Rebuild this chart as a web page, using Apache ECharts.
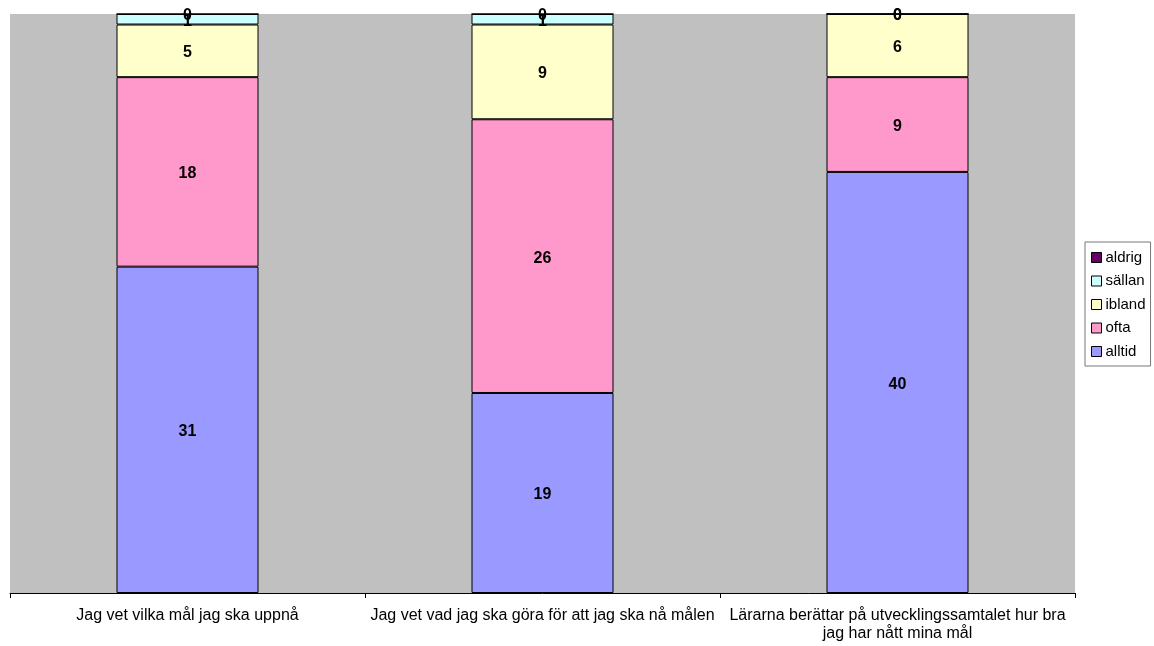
<!DOCTYPE html>
<html><head><meta charset="utf-8">
<script src="https://cdn.jsdelivr.net/npm/echarts@6/dist/echarts.min.js"></script>
<style>html,body{margin:0;padding:0;background:#fff}#c{width:1154px;height:646px}</style>
</head><body><div id="c"></div>
<script>
const categories = ["Jag vet vilka mål jag ska uppnå", "Jag vet vad jag ska göra för att jag ska nå målen", "Lärarna berättar på utvecklingssamtalet hur bra\njag har nått mina mål"];
const alltid = [31, 19, 40];
const ofta = [18, 26, 9];
const ibland = [5, 9, 6];
const sallan = [1, 1, 0];
const aldrig = [0, 0, 0];
const seriesNames = ["alltid", "ofta", "ibland", "sällan", "aldrig"];
const seriesData = [alltid, ofta, ibland, sallan, aldrig];
const colors = ["#9999FF", "#FF99CC", "#FFFFCC", "#CCFFFF", "#660066"];
const totals = categories.map((_, i) => seriesData.reduce((s, a) => s + a[i], 0));
const font = "Liberation Sans, Arial, sans-serif";
const chart = echarts.init(document.getElementById('c'));
chart.setOption({
  animation: false,
  grid: {left: 10, right: 79, top: 14, bottom: 53, show: true, backgroundColor: '#C0C0C0', borderWidth: 0},
  legend: {
    orient: 'vertical', left: 1085, top: 242,
    data: seriesNames.slice().reverse(),
    itemWidth: 10, itemHeight: 10, itemGap: 8.5,
    icon: 'rect',
    itemStyle: {borderColor: '#000', borderWidth: 1},
    textStyle: {fontFamily: font, fontSize: 15, color: '#000', padding: [0,0,0,-1]},
    borderColor: '#777', borderWidth: 1, padding: [8, 5, 7, 6], backgroundColor: '#fff'
  },
  xAxis: {
    type: 'category', data: categories,
    axisLine: {lineStyle: {color: '#000', width: 1}},
    axisTick: {show: true, length: 5, lineStyle: {color: '#000'}},
    axisLabel: {fontFamily: font, fontSize: 16, color: '#000', margin: 14, interval: 0, lineHeight: 18}
  },
  yAxis: {type: 'value', min: 0, max: 100, show: false, splitLine: {show: false}},
  series: seriesNames.map((n, si) => ({
    name: n, type: 'bar', stack: 'all', barWidth: 142,
    itemStyle: {color: colors[si], borderColor: '#000', borderWidth: 1},
    data: seriesData[si].map((v, i) => ({value: v / totals[i] * 100, raw: v})),
    label: {
      show: true, position: 'inside', offset: [0, 2], fontFamily: font, fontSize: 16, fontWeight: 'bold', color: '#000',
      formatter: p => String(p.data.raw)
    }
  }))
});
</script></body></html>
